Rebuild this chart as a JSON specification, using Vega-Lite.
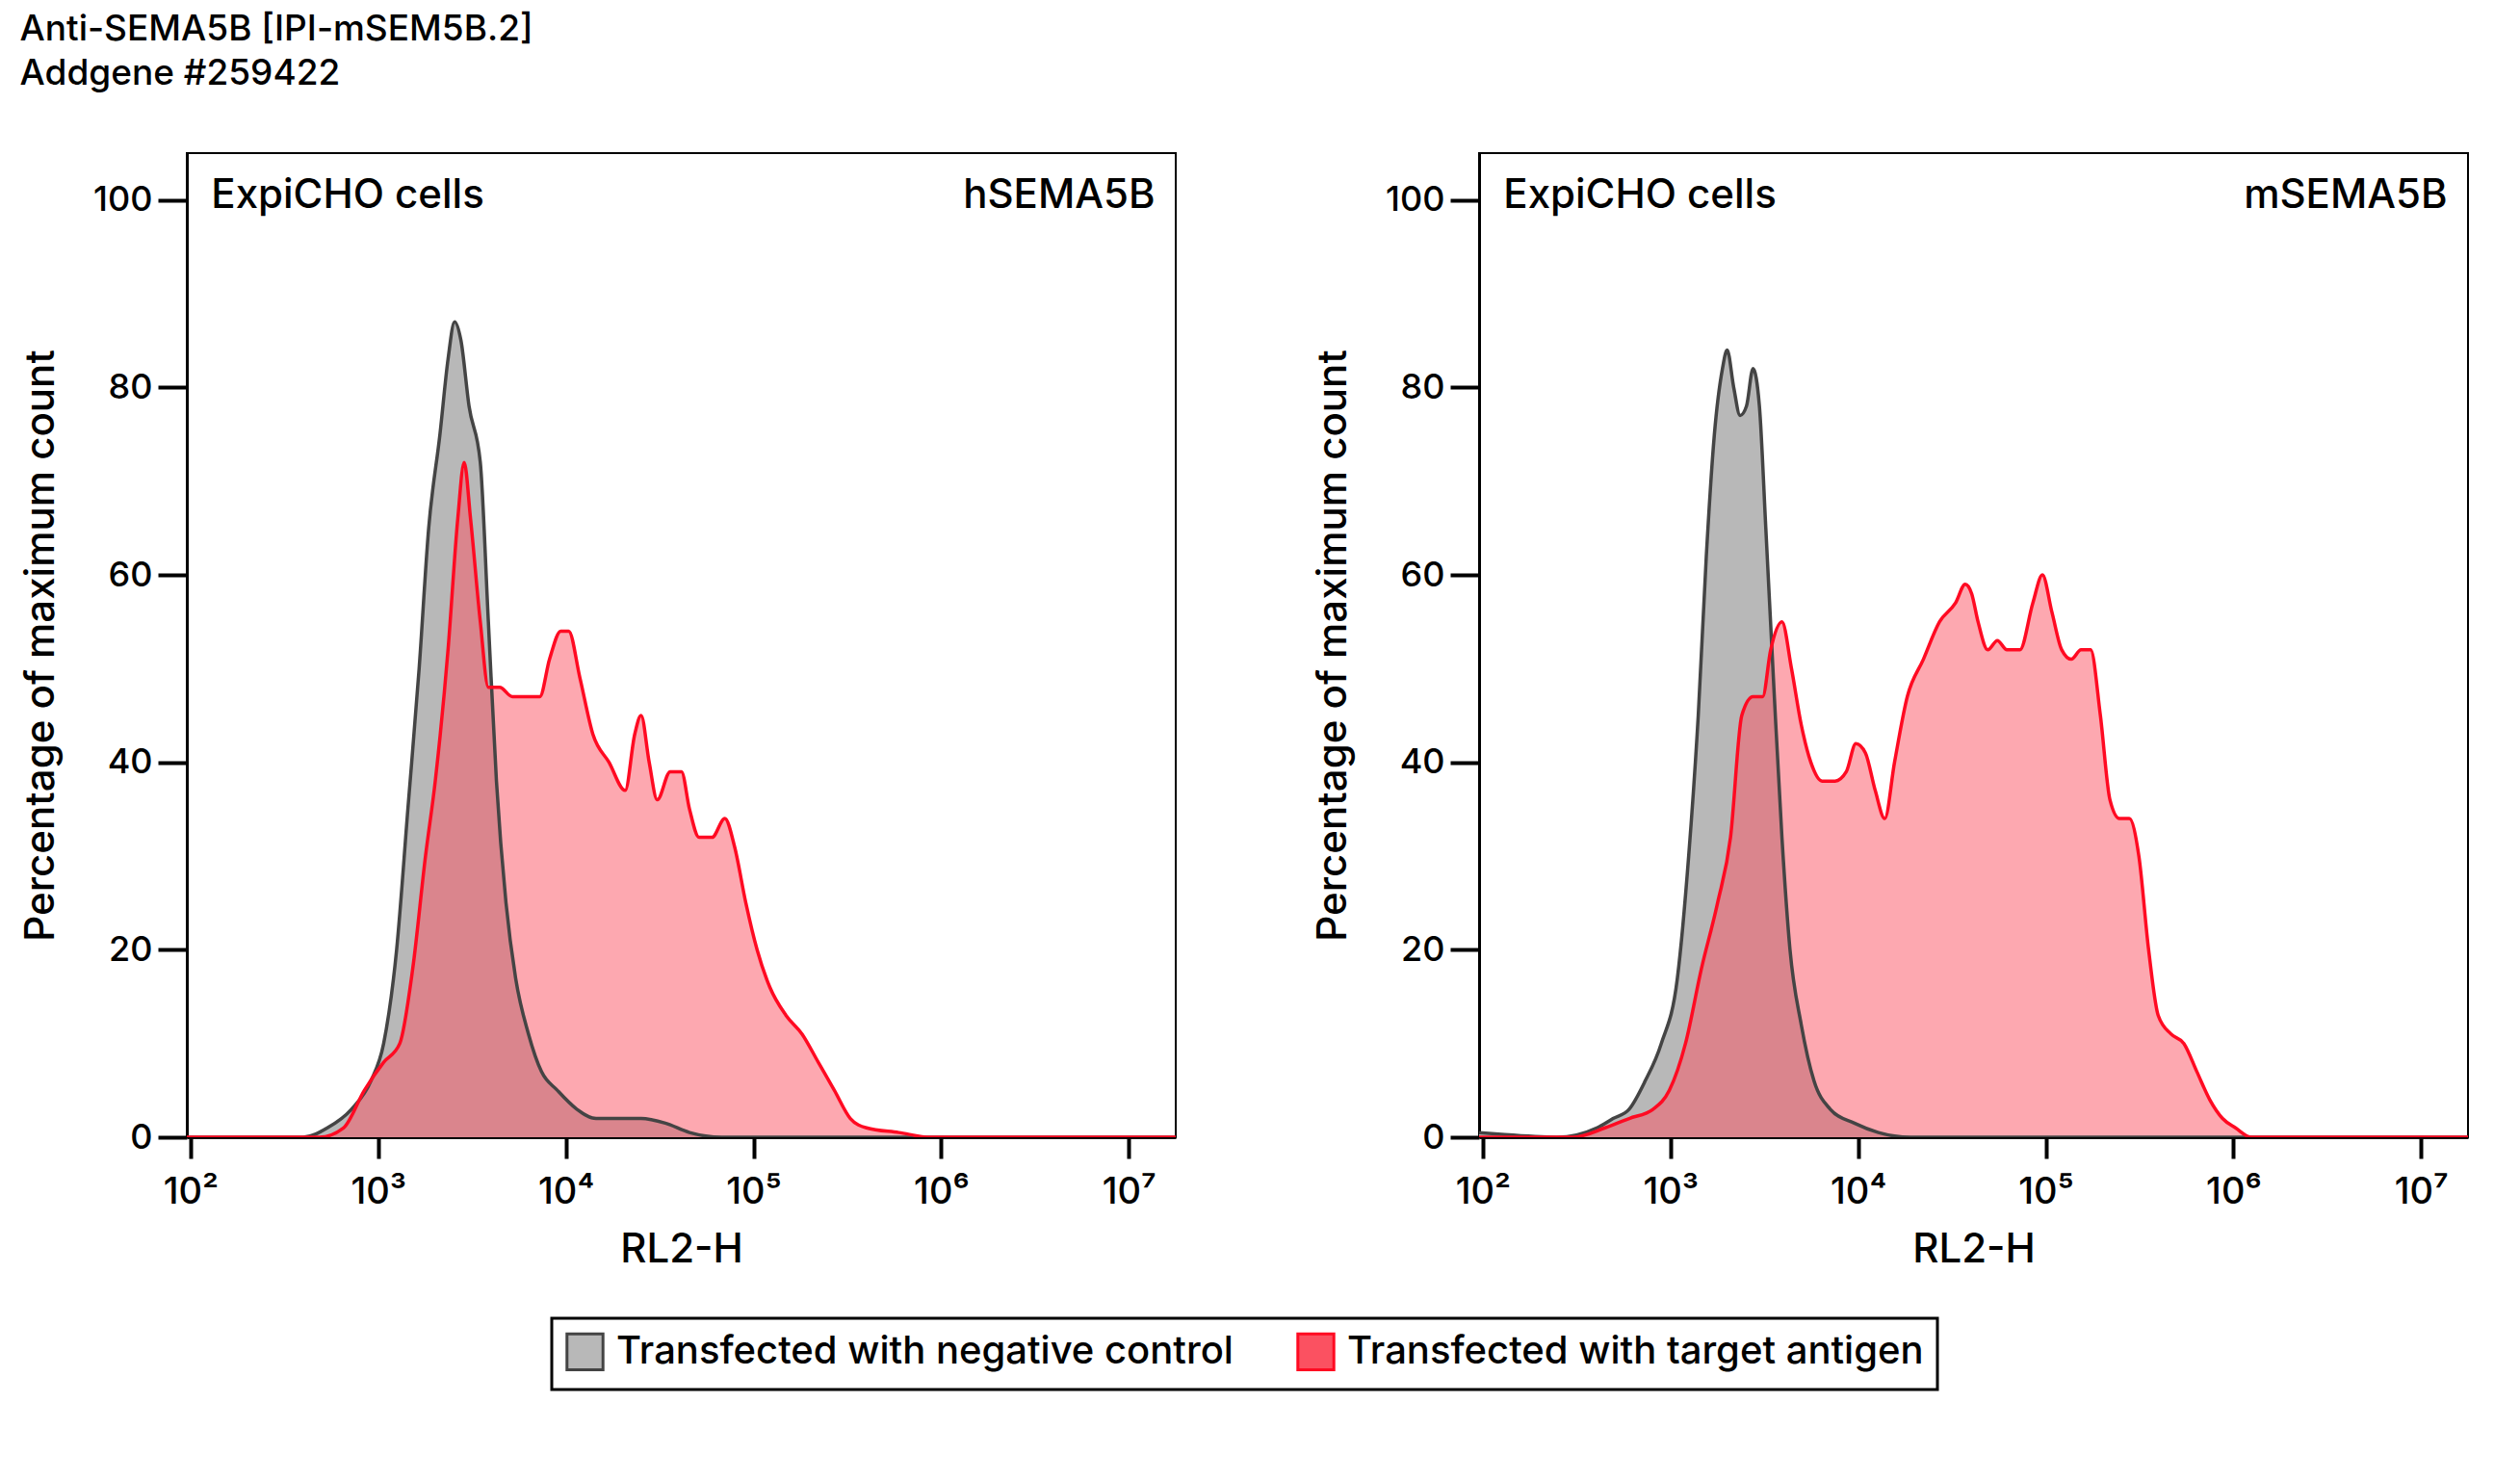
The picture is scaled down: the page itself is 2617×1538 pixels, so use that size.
{
  "$schema": "https://vega.github.io/schema/vega-lite/v6.json",
  "background": "white",
  "padding": {"left": 20, "top": 12, "right": 30, "bottom": 20},
  "title": {
    "text": ["Anti-SEMA5B [IPI-mSEM5B.2]", "Addgene #259422"],
    "anchor": "start", "frame": "bounds", "font": "Inter", "fontSize": 37,
    "fontWeight": 500, "lineHeight": 46, "offset": 62
  },
  "datasets": {
    "labels": [
      {"panel": "h", "x": 2.11, "y": 100.5, "label": "ExpiCHO cells", "side": "left"},
      {"panel": "h", "x": 7.14, "y": 100.5, "label": "hSEMA5B", "side": "right"},
      {"panel": "m", "x": 2.11, "y": 100.5, "label": "ExpiCHO cells", "side": "left"},
      {"panel": "m", "x": 7.14, "y": 100.5, "label": "mSEMA5B", "side": "right"}
    ],
    "curves": [
      {"panel": "h", "series": "Transfected with negative control", "x": 1.98, "y": 0},
      {"panel": "h", "series": "Transfected with negative control", "x": 2.6, "y": 0},
      {"panel": "h", "series": "Transfected with negative control", "x": 2.729, "y": 1},
      {"panel": "h", "series": "Transfected with negative control", "x": 2.858, "y": 3},
      {"panel": "h", "series": "Transfected with negative control", "x": 2.961, "y": 6},
      {"panel": "h", "series": "Transfected with negative control", "x": 3.029, "y": 10},
      {"panel": "h", "series": "Transfected with negative control", "x": 3.098, "y": 20},
      {"panel": "h", "series": "Transfected with negative control", "x": 3.158, "y": 35},
      {"panel": "h", "series": "Transfected with negative control", "x": 3.218, "y": 50},
      {"panel": "h", "series": "Transfected with negative control", "x": 3.269, "y": 65},
      {"panel": "h", "series": "Transfected with negative control", "x": 3.329, "y": 75},
      {"panel": "h", "series": "Transfected with negative control", "x": 3.372, "y": 83},
      {"panel": "h", "series": "Transfected with negative control", "x": 3.407, "y": 87},
      {"panel": "h", "series": "Transfected with negative control", "x": 3.441, "y": 85},
      {"panel": "h", "series": "Transfected with negative control", "x": 3.484, "y": 78},
      {"panel": "h", "series": "Transfected with negative control", "x": 3.544, "y": 72},
      {"panel": "h", "series": "Transfected with negative control", "x": 3.587, "y": 55},
      {"panel": "h", "series": "Transfected with negative control", "x": 3.63, "y": 38},
      {"panel": "h", "series": "Transfected with negative control", "x": 3.681, "y": 25},
      {"panel": "h", "series": "Transfected with negative control", "x": 3.732, "y": 17},
      {"panel": "h", "series": "Transfected with negative control", "x": 3.801, "y": 11},
      {"panel": "h", "series": "Transfected with negative control", "x": 3.87, "y": 7},
      {"panel": "h", "series": "Transfected with negative control", "x": 3.955, "y": 5},
      {"panel": "h", "series": "Transfected with negative control", "x": 4.058, "y": 3},
      {"panel": "h", "series": "Transfected with negative control", "x": 4.161, "y": 2},
      {"panel": "h", "series": "Transfected with negative control", "x": 4.401, "y": 2},
      {"panel": "h", "series": "Transfected with negative control", "x": 4.53, "y": 1.5},
      {"panel": "h", "series": "Transfected with negative control", "x": 4.659, "y": 0.5},
      {"panel": "h", "series": "Transfected with negative control", "x": 4.83, "y": 0},
      {"panel": "h", "series": "Transfected with negative control", "x": 7.25, "y": 0},

      {"panel": "h", "series": "Transfected with target antigen", "x": 1.98, "y": 0},
      {"panel": "h", "series": "Transfected with target antigen", "x": 2.686, "y": 0},
      {"panel": "h", "series": "Transfected with target antigen", "x": 2.815, "y": 1},
      {"panel": "h", "series": "Transfected with target antigen", "x": 2.926, "y": 5},
      {"panel": "h", "series": "Transfected with target antigen", "x": 3.029, "y": 8},
      {"panel": "h", "series": "Transfected with target antigen", "x": 3.115, "y": 10},
      {"panel": "h", "series": "Transfected with target antigen", "x": 3.184, "y": 18},
      {"panel": "h", "series": "Transfected with target antigen", "x": 3.252, "y": 30},
      {"panel": "h", "series": "Transfected with target antigen", "x": 3.304, "y": 38},
      {"panel": "h", "series": "Transfected with target antigen", "x": 3.372, "y": 52},
      {"panel": "h", "series": "Transfected with target antigen", "x": 3.424, "y": 66},
      {"panel": "h", "series": "Transfected with target antigen", "x": 3.458, "y": 72},
      {"panel": "h", "series": "Transfected with target antigen", "x": 3.492, "y": 66},
      {"panel": "h", "series": "Transfected with target antigen", "x": 3.544, "y": 55},
      {"panel": "h", "series": "Transfected with target antigen", "x": 3.587, "y": 48},
      {"panel": "h", "series": "Transfected with target antigen", "x": 3.647, "y": 48},
      {"panel": "h", "series": "Transfected with target antigen", "x": 3.715, "y": 47},
      {"panel": "h", "series": "Transfected with target antigen", "x": 3.801, "y": 47},
      {"panel": "h", "series": "Transfected with target antigen", "x": 3.861, "y": 47},
      {"panel": "h", "series": "Transfected with target antigen", "x": 3.913, "y": 51},
      {"panel": "h", "series": "Transfected with target antigen", "x": 3.973, "y": 54},
      {"panel": "h", "series": "Transfected with target antigen", "x": 4.015, "y": 54},
      {"panel": "h", "series": "Transfected with target antigen", "x": 4.075, "y": 49},
      {"panel": "h", "series": "Transfected with target antigen", "x": 4.144, "y": 43},
      {"panel": "h", "series": "Transfected with target antigen", "x": 4.23, "y": 40},
      {"panel": "h", "series": "Transfected with target antigen", "x": 4.316, "y": 37},
      {"panel": "h", "series": "Transfected with target antigen", "x": 4.367, "y": 43},
      {"panel": "h", "series": "Transfected with target antigen", "x": 4.401, "y": 45},
      {"panel": "h", "series": "Transfected with target antigen", "x": 4.444, "y": 40},
      {"panel": "h", "series": "Transfected with target antigen", "x": 4.487, "y": 36},
      {"panel": "h", "series": "Transfected with target antigen", "x": 4.556, "y": 39},
      {"panel": "h", "series": "Transfected with target antigen", "x": 4.616, "y": 39},
      {"panel": "h", "series": "Transfected with target antigen", "x": 4.659, "y": 35},
      {"panel": "h", "series": "Transfected with target antigen", "x": 4.71, "y": 32},
      {"panel": "h", "series": "Transfected with target antigen", "x": 4.779, "y": 32},
      {"panel": "h", "series": "Transfected with target antigen", "x": 4.847, "y": 34},
      {"panel": "h", "series": "Transfected with target antigen", "x": 4.899, "y": 31},
      {"panel": "h", "series": "Transfected with target antigen", "x": 4.959, "y": 25},
      {"panel": "h", "series": "Transfected with target antigen", "x": 5.019, "y": 20},
      {"panel": "h", "series": "Transfected with target antigen", "x": 5.087, "y": 16},
      {"panel": "h", "series": "Transfected with target antigen", "x": 5.173, "y": 13},
      {"panel": "h", "series": "Transfected with target antigen", "x": 5.259, "y": 11},
      {"panel": "h", "series": "Transfected with target antigen", "x": 5.345, "y": 8},
      {"panel": "h", "series": "Transfected with target antigen", "x": 5.431, "y": 5},
      {"panel": "h", "series": "Transfected with target antigen", "x": 5.516, "y": 2},
      {"panel": "h", "series": "Transfected with target antigen", "x": 5.602, "y": 1},
      {"panel": "h", "series": "Transfected with target antigen", "x": 5.774, "y": 0.5},
      {"panel": "h", "series": "Transfected with target antigen", "x": 5.945, "y": 0},
      {"panel": "h", "series": "Transfected with target antigen", "x": 7.25, "y": 0},

      {"panel": "m", "series": "Transfected with negative control", "x": 1.98, "y": 0.5},
      {"panel": "m", "series": "Transfected with negative control", "x": 2.1, "y": 0.3},
      {"panel": "m", "series": "Transfected with negative control", "x": 2.394, "y": 0},
      {"panel": "m", "series": "Transfected with negative control", "x": 2.608, "y": 1},
      {"panel": "m", "series": "Transfected with negative control", "x": 2.694, "y": 2},
      {"panel": "m", "series": "Transfected with negative control", "x": 2.78, "y": 3},
      {"panel": "m", "series": "Transfected with negative control", "x": 2.865, "y": 6},
      {"panel": "m", "series": "Transfected with negative control", "x": 2.951, "y": 10},
      {"panel": "m", "series": "Transfected with negative control", "x": 3.037, "y": 17},
      {"panel": "m", "series": "Transfected with negative control", "x": 3.097, "y": 30},
      {"panel": "m", "series": "Transfected with negative control", "x": 3.148, "y": 45},
      {"panel": "m", "series": "Transfected with negative control", "x": 3.191, "y": 62},
      {"panel": "m", "series": "Transfected with negative control", "x": 3.234, "y": 75},
      {"panel": "m", "series": "Transfected with negative control", "x": 3.277, "y": 82},
      {"panel": "m", "series": "Transfected with negative control", "x": 3.302, "y": 84},
      {"panel": "m", "series": "Transfected with negative control", "x": 3.337, "y": 80},
      {"panel": "m", "series": "Transfected with negative control", "x": 3.371, "y": 77},
      {"panel": "m", "series": "Transfected with negative control", "x": 3.405, "y": 78},
      {"panel": "m", "series": "Transfected with negative control", "x": 3.44, "y": 82},
      {"panel": "m", "series": "Transfected with negative control", "x": 3.474, "y": 78},
      {"panel": "m", "series": "Transfected with negative control", "x": 3.508, "y": 65},
      {"panel": "m", "series": "Transfected with negative control", "x": 3.551, "y": 48},
      {"panel": "m", "series": "Transfected with negative control", "x": 3.594, "y": 32},
      {"panel": "m", "series": "Transfected with negative control", "x": 3.637, "y": 20},
      {"panel": "m", "series": "Transfected with negative control", "x": 3.697, "y": 12},
      {"panel": "m", "series": "Transfected with negative control", "x": 3.765, "y": 6},
      {"panel": "m", "series": "Transfected with negative control", "x": 3.851, "y": 3},
      {"panel": "m", "series": "Transfected with negative control", "x": 3.98, "y": 1.5},
      {"panel": "m", "series": "Transfected with negative control", "x": 4.108, "y": 0.5},
      {"panel": "m", "series": "Transfected with negative control", "x": 4.279, "y": 0},
      {"panel": "m", "series": "Transfected with negative control", "x": 7.25, "y": 0},

      {"panel": "m", "series": "Transfected with target antigen", "x": 1.98, "y": 0},
      {"panel": "m", "series": "Transfected with target antigen", "x": 2.48, "y": 0},
      {"panel": "m", "series": "Transfected with target antigen", "x": 2.651, "y": 1},
      {"panel": "m", "series": "Transfected with target antigen", "x": 2.78, "y": 2},
      {"panel": "m", "series": "Transfected with target antigen", "x": 2.908, "y": 3},
      {"panel": "m", "series": "Transfected with target antigen", "x": 2.994, "y": 5},
      {"panel": "m", "series": "Transfected with target antigen", "x": 3.08, "y": 10},
      {"panel": "m", "series": "Transfected with target antigen", "x": 3.165, "y": 18},
      {"panel": "m", "series": "Transfected with target antigen", "x": 3.251, "y": 25},
      {"panel": "m", "series": "Transfected with target antigen", "x": 3.32, "y": 32},
      {"panel": "m", "series": "Transfected with target antigen", "x": 3.38, "y": 45},
      {"panel": "m", "series": "Transfected with target antigen", "x": 3.44, "y": 47},
      {"panel": "m", "series": "Transfected with target antigen", "x": 3.491, "y": 47},
      {"panel": "m", "series": "Transfected with target antigen", "x": 3.534, "y": 52},
      {"panel": "m", "series": "Transfected with target antigen", "x": 3.594, "y": 55},
      {"panel": "m", "series": "Transfected with target antigen", "x": 3.645, "y": 50},
      {"panel": "m", "series": "Transfected with target antigen", "x": 3.697, "y": 44},
      {"panel": "m", "series": "Transfected with target antigen", "x": 3.748, "y": 40},
      {"panel": "m", "series": "Transfected with target antigen", "x": 3.808, "y": 38},
      {"panel": "m", "series": "Transfected with target antigen", "x": 3.877, "y": 38},
      {"panel": "m", "series": "Transfected with target antigen", "x": 3.937, "y": 39},
      {"panel": "m", "series": "Transfected with target antigen", "x": 3.988, "y": 42},
      {"panel": "m", "series": "Transfected with target antigen", "x": 4.039, "y": 41},
      {"panel": "m", "series": "Transfected with target antigen", "x": 4.091, "y": 37},
      {"panel": "m", "series": "Transfected with target antigen", "x": 4.142, "y": 34},
      {"panel": "m", "series": "Transfected with target antigen", "x": 4.194, "y": 40},
      {"panel": "m", "series": "Transfected with target antigen", "x": 4.262, "y": 47},
      {"panel": "m", "series": "Transfected with target antigen", "x": 4.348, "y": 51},
      {"panel": "m", "series": "Transfected with target antigen", "x": 4.434, "y": 55},
      {"panel": "m", "series": "Transfected with target antigen", "x": 4.519, "y": 57},
      {"panel": "m", "series": "Transfected with target antigen", "x": 4.571, "y": 59},
      {"panel": "m", "series": "Transfected with target antigen", "x": 4.605, "y": 58},
      {"panel": "m", "series": "Transfected with target antigen", "x": 4.639, "y": 55},
      {"panel": "m", "series": "Transfected with target antigen", "x": 4.691, "y": 52},
      {"panel": "m", "series": "Transfected with target antigen", "x": 4.742, "y": 53},
      {"panel": "m", "series": "Transfected with target antigen", "x": 4.793, "y": 52},
      {"panel": "m", "series": "Transfected with target antigen", "x": 4.862, "y": 52},
      {"panel": "m", "series": "Transfected with target antigen", "x": 4.931, "y": 57},
      {"panel": "m", "series": "Transfected with target antigen", "x": 4.982, "y": 60},
      {"panel": "m", "series": "Transfected with target antigen", "x": 5.033, "y": 56},
      {"panel": "m", "series": "Transfected with target antigen", "x": 5.085, "y": 52},
      {"panel": "m", "series": "Transfected with target antigen", "x": 5.136, "y": 51},
      {"panel": "m", "series": "Transfected with target antigen", "x": 5.188, "y": 52},
      {"panel": "m", "series": "Transfected with target antigen", "x": 5.239, "y": 52},
      {"panel": "m", "series": "Transfected with target antigen", "x": 5.291, "y": 45},
      {"panel": "m", "series": "Transfected with target antigen", "x": 5.342, "y": 36},
      {"panel": "m", "series": "Transfected with target antigen", "x": 5.393, "y": 34},
      {"panel": "m", "series": "Transfected with target antigen", "x": 5.445, "y": 34},
      {"panel": "m", "series": "Transfected with target antigen", "x": 5.496, "y": 30},
      {"panel": "m", "series": "Transfected with target antigen", "x": 5.548, "y": 20},
      {"panel": "m", "series": "Transfected with target antigen", "x": 5.599, "y": 13},
      {"panel": "m", "series": "Transfected with target antigen", "x": 5.668, "y": 11},
      {"panel": "m", "series": "Transfected with target antigen", "x": 5.736, "y": 10},
      {"panel": "m", "series": "Transfected with target antigen", "x": 5.805, "y": 7},
      {"panel": "m", "series": "Transfected with target antigen", "x": 5.874, "y": 4},
      {"panel": "m", "series": "Transfected with target antigen", "x": 5.942, "y": 2},
      {"panel": "m", "series": "Transfected with target antigen", "x": 6.011, "y": 1},
      {"panel": "m", "series": "Transfected with target antigen", "x": 6.096, "y": 0},
      {"panel": "m", "series": "Transfected with target antigen", "x": 7.25, "y": 0}
    ]
  },
  "hconcat": [
    {
      "width": 1027, "height": 1022,
      "encoding": {
        "x": {"field": "x", "type": "quantitative", "scale": {"domain": [1.98, 7.25], "nice": false, "zero": false}, "title": "RL2-H",
          "axis": {"values": [2, 3, 4, 5, 6, 7], "ticks": true, "tickSize": 22, "tickWidth": 4, "tickColor": "#000", "labelDx": 52, "labelPadding": 16,
            "labelExpr": "'10' + ['⁰','¹','²','³','⁴','⁵','⁶','⁷'][datum.value]"}},
        "y": {"field": "y", "type": "quantitative", "stack": null, "scale": {"domain": [0, 105], "nice": false}, "title": "Percentage of maximum count",
          "axis": {"values": [0, 20, 40, 60, 80, 100]}}
      },
      "layer": [
        {
          "data": {"name": "curves"},
          "transform": [{"filter": "datum.panel == 'h'"}],
          "mark": {"type": "area", "interpolate": "monotone", "clip": true},
          "encoding": {
            "color": {"field": "series", "type": "nominal",
              "scale": {"domain": ["Transfected with negative control", "Transfected with target antigen"], "range": ["#b8b8b8", "#fb5161"]},
              "legend": {"title": null, "orient": "bottom", "direction": "horizontal"}},
            "fillOpacity": {"field": "series", "type": "nominal", "scale": {"domain": ["Transfected with negative control", "Transfected with target antigen"], "range": [1, 0.5]}, "legend": null}
          }
        },
        {
          "data": {"name": "curves"},
          "transform": [{"filter": "datum.panel == 'h'"}],
          "mark": {"type": "line", "interpolate": "monotone", "strokeWidth": 3.5, "clip": true},
          "encoding": {
            "detail": {"field": "series"},
            "stroke": {"field": "series", "type": "nominal", "scale": {"domain": ["Transfected with negative control", "Transfected with target antigen"], "range": ["#444444", "#ff0a22"]}, "legend": null}
          }
        },
        {
          "data": {"name": "labels"},
          "transform": [{"filter": "datum.panel == 'h' && datum.side == 'left'"}],
          "mark": {"type": "text", "align": "left", "baseline": "middle", "fontSize": 42, "font": "Inter", "fontWeight": 500},
          "encoding": {"text": {"field": "label"}}
        },
        {
          "data": {"name": "labels"},
          "transform": [{"filter": "datum.panel == 'h' && datum.side == 'right'"}],
          "mark": {"type": "text", "align": "right", "baseline": "middle", "fontSize": 42, "font": "Inter", "fontWeight": 500},
          "encoding": {"text": {"field": "label"}}
        }
      ]
    },
    {
      "width": 1027, "height": 1022,
      "encoding": {
        "x": {"field": "x", "type": "quantitative", "scale": {"domain": [1.98, 7.25], "nice": false, "zero": false}, "title": "RL2-H",
          "axis": {"values": [2, 3, 4, 5, 6, 7], "ticks": true, "tickSize": 22, "tickWidth": 4, "tickColor": "#000", "labelDx": 52, "labelPadding": 16,
            "labelExpr": "'10' + ['⁰','¹','²','³','⁴','⁵','⁶','⁷'][datum.value]"}},
        "y": {"field": "y", "type": "quantitative", "stack": null, "scale": {"domain": [0, 105], "nice": false}, "title": "Percentage of maximum count",
          "axis": {"values": [0, 20, 40, 60, 80, 100]}}
      },
      "layer": [
        {
          "data": {"name": "curves"},
          "transform": [{"filter": "datum.panel == 'm'"}],
          "mark": {"type": "area", "interpolate": "monotone", "clip": true},
          "encoding": {
            "color": {"field": "series", "type": "nominal",
              "scale": {"domain": ["Transfected with negative control", "Transfected with target antigen"], "range": ["#b8b8b8", "#fb5161"]},
              "legend": {"title": null, "orient": "bottom", "direction": "horizontal"}},
            "fillOpacity": {"field": "series", "type": "nominal", "scale": {"domain": ["Transfected with negative control", "Transfected with target antigen"], "range": [1, 0.5]}, "legend": null}
          }
        },
        {
          "data": {"name": "curves"},
          "transform": [{"filter": "datum.panel == 'm'"}],
          "mark": {"type": "line", "interpolate": "monotone", "strokeWidth": 3.5, "clip": true},
          "encoding": {
            "detail": {"field": "series"},
            "stroke": {"field": "series", "type": "nominal", "scale": {"domain": ["Transfected with negative control", "Transfected with target antigen"], "range": ["#444444", "#ff0a22"]}, "legend": null}
          }
        },
        {
          "data": {"name": "labels"},
          "transform": [{"filter": "datum.panel == 'm' && datum.side == 'left'"}],
          "mark": {"type": "text", "align": "left", "baseline": "middle", "fontSize": 42, "font": "Inter", "fontWeight": 500},
          "encoding": {"text": {"field": "label"}}
        },
        {
          "data": {"name": "labels"},
          "transform": [{"filter": "datum.panel == 'm' && datum.side == 'right'"}],
          "mark": {"type": "text", "align": "right", "baseline": "middle", "fontSize": 42, "font": "Inter", "fontWeight": 500},
          "encoding": {"text": {"field": "label"}}
        }
      ]
    }
  ],
  "spacing": 140,
  "config": {
    "font": "Inter",
    "view": {"stroke": "#000", "strokeWidth": 2},
    "axis": {
      "grid": false, "domainColor": "#000", "domainWidth": 3, "ticks": true, "tickColor": "#000", "tickWidth": 4,
      "labelFont": "Inter", "labelFontSize": 36, "labelFontWeight": 500, "labelColor": "#000",
      "titleFont": "Inter", "titleFontSize": 42, "titleFontWeight": 500, "titleColor": "#000", "titlePadding": 20
    },
    "axisX": {"labelFontSize": 38},
    "axisY": {"tickSize": 30, "labelPadding": 6, "titlePadding": 32},
    "legend": {
      "labelFont": "Inter", "labelFontSize": 40, "labelFontWeight": 500, "labelColor": "#000", "labelLimit": 1000,
      "symbolType": "square", "symbolSize": 1400, "symbolStrokeColor": "#000", "symbolStrokeWidth": 3, "symbolOpacity": 1,
      "strokeColor": "#000", "strokeWidth": 3, "padding": 14, "columnPadding": 60, "offset": 50, "labelOffset": 12,
      "layout": {"bottom": {"anchor": "middle"}}
    }
  }
}
